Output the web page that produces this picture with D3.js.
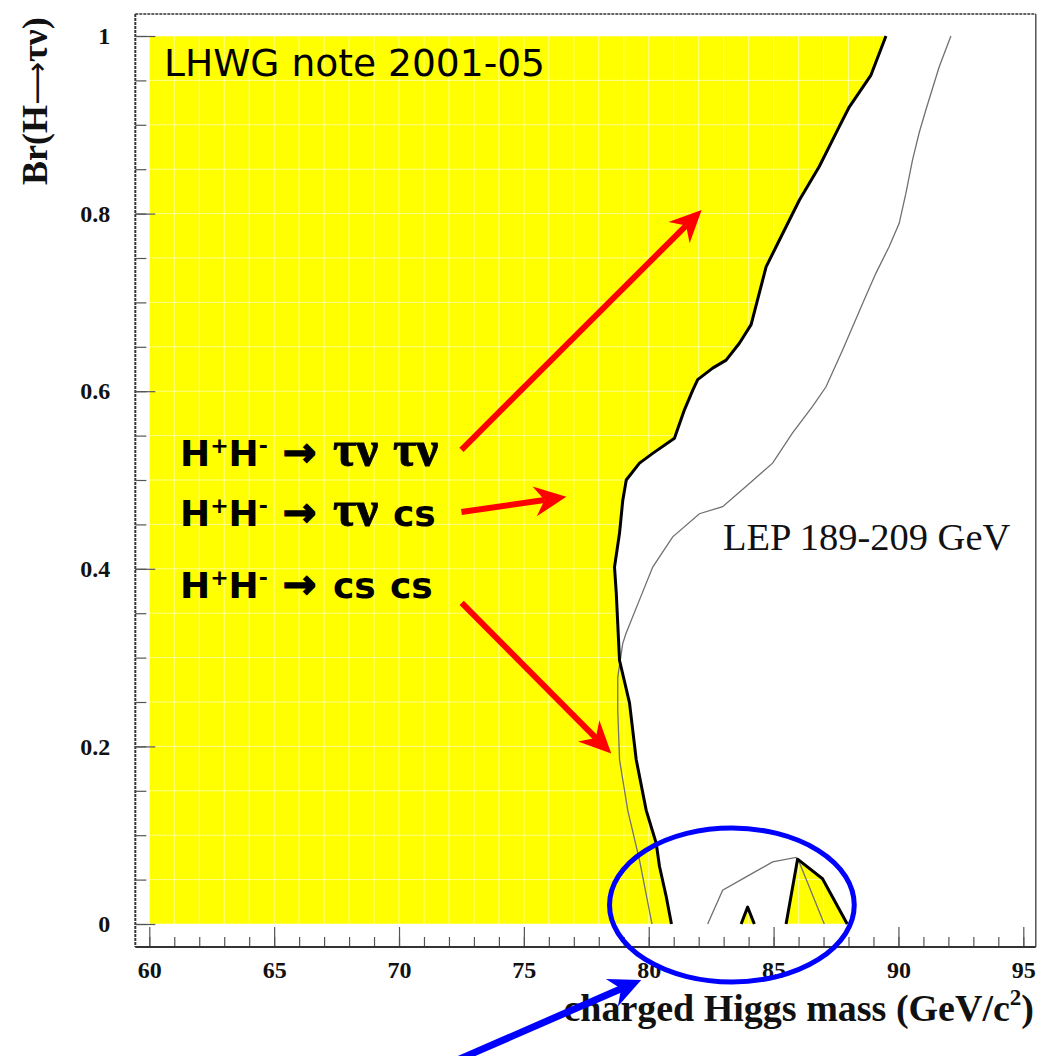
<!DOCTYPE html>
<html>
<head>
<meta charset="utf-8">
<script src="https://cdn.jsdelivr.net/npm/d3@7"></script>
<style>
  body { margin: 0; background: #fff; }
  svg { display: block; }
</style>
</head>
<body>
<svg id="chart" width="1039" height="1056"></svg>
<script>
// ---- tick values ----
const xTicksMajor = [60, 65, 70, 75, 80, 85, 90, 95];
const xTicksMinor = d3.range(60, 96, 1);
const yTicksMajor = [0, 0.2, 0.4, 0.6, 0.8, 1];
const yTicksMinor = d3.range(0, 21).map(i => i * 0.05);

// ---- observed 95% CL exclusion boundary: [mass GeV, BR(H->tau nu)] ----
const observedMain = [
  [89.50, 1.000], [88.90, 0.956], [88.03, 0.920], [87.63, 0.898], [86.83, 0.853],
  [86.03, 0.815], [85.23, 0.770], [84.70, 0.740], [84.36, 0.703], [84.10, 0.675],
  [83.63, 0.654], [83.10, 0.635], [82.56, 0.626], [81.96, 0.613], [81.76, 0.601],
  [81.43, 0.579], [81.03, 0.547], [80.16, 0.530], [79.63, 0.519], [79.10, 0.500],
  [78.96, 0.477], [78.83, 0.440], [78.63, 0.402], [78.70, 0.373], [78.83, 0.297],
  [79.23, 0.249], [79.50, 0.185], [79.90, 0.128], [80.30, 0.091], [80.43, 0.065],
  [80.70, 0.031], [80.91, 0.000]
];
// small excluded islands near BR = 0
const islandSmall = [[83.70, 0.000], [83.96, 0.019], [84.23, 0.000]];
const islandRight = [[85.50, 0.000], [85.96, 0.073], [86.96, 0.051], [87.95, 0.000]];

// ---- expected limit ----
const expectedMain = [
  [92.10, 1.000], [91.63, 0.965], [91.10, 0.917], [90.83, 0.891], [90.56, 0.860],
  [90.30, 0.823], [90.03, 0.789], [89.63, 0.763], [89.10, 0.733], [88.63, 0.703],
  [87.76, 0.646], [87.10, 0.605], [86.56, 0.583], [85.76, 0.553], [84.96, 0.519],
  [84.03, 0.496], [82.96, 0.470], [82.03, 0.462], [80.96, 0.436], [80.16, 0.402],
  [79.63, 0.365], [79.10, 0.328], [78.96, 0.316], [78.76, 0.278], [78.76, 0.241],
  [78.83, 0.185], [79.16, 0.128], [79.63, 0.072], [80.13, 0.000]
];
const expectedLow = [
  [82.36, 0.000], [82.96, 0.038], [83.90, 0.053], [84.96, 0.070], [85.90, 0.075],
  [86.05, 0.068], [87.03, 0.000]
];

// ---- annotation arrows (data coordinates) ----
const redArrows = [
  { from: [72.50, 0.534], to: [82.12, 0.804] },
  { from: [72.50, 0.464], to: [76.70, 0.481] },
  { from: [72.51, 0.3615], to: [78.50, 0.192] }
];
const blueArrow = { from: [72.35, -0.153], to: [79.70, -0.063] };
const blueEllipse = { cx: 83.33, cy: 0.0214, rx: 4.9, ry: 0.0867 };

const channelLines = [
  { y: 0.516, words: ["\u03c4\u03bd", "\u03c4\u03bd"], serif: [true, true] },
  { y: 0.448, words: ["\u03c4\u03bd", "cs"], serif: [true, false] },
  { y: 0.367, words: ["cs", "cs"], serif: [false, false] }
];

// ---- scales ----
const x = d3.scaleLinear().domain([60, 95]).range([149.3, 1023.3]);
const y = d3.scaleLinear().domain([0, 1]).range([924, 36]);
const frame = { x0: x(59.44), x1: x(95.5), y0: y(1.0248), y1: y(-0.0259) };

const svg = d3.select("#chart");
const line = d3.line().x(d => x(d[0])).y(d => y(d[1]));
const YELLOW = "#ffff00";

// excluded region
const excluded = [[60, 0], [60, 1]].concat(observedMain);
svg.append("path").attr("d", line(excluded) + "Z").attr("fill", YELLOW);
[islandSmall, islandRight].forEach(isl => {
  svg.append("path").attr("d", line(isl) + "Z").attr("fill", YELLOW);
});

// pale grid lines visible over the yellow fill
const grid = svg.append("g").attr("stroke", "#ffffff").attr("stroke-opacity", 0.55).attr("stroke-width", 1);
xTicksMinor.forEach(v => {
  grid.append("line").attr("x1", x(v)).attr("x2", x(v)).attr("y1", y(0)).attr("y2", y(1));
});
yTicksMinor.forEach(v => {
  grid.append("line").attr("x1", x(60)).attr("x2", x(95)).attr("y1", y(v)).attr("y2", y(v));
});

// expected limit (thin grey)
[expectedMain, expectedLow].forEach(seg => {
  svg.append("path").attr("d", line(seg)).attr("fill", "none")
    .attr("stroke", "#707070").attr("stroke-width", 1.3);
});

// observed boundary (thick black)
[observedMain, islandSmall, islandRight].forEach(seg => {
  svg.append("path").attr("d", line(seg)).attr("fill", "none")
    .attr("stroke", "#000").attr("stroke-width", 3).attr("stroke-linejoin", "round");
});

// ---- frame ----
svg.append("line").attr("x1", frame.x0).attr("x2", frame.x1).attr("y1", frame.y0).attr("y2", frame.y0)
  .attr("stroke", "#333").attr("stroke-width", 1.5).attr("stroke-dasharray", "3,1");
svg.append("line").attr("x1", frame.x0).attr("x2", frame.x0).attr("y1", frame.y0).attr("y2", frame.y1)
  .attr("stroke", "#333").attr("stroke-width", 2).attr("stroke-dasharray", "3,1");
svg.append("line").attr("x1", frame.x1).attr("x2", frame.x1).attr("y1", frame.y0).attr("y2", frame.y1)
  .attr("stroke", "#555").attr("stroke-width", 1.5);

// ---- axes ----
const tickFont = "'Liberation Serif', 'Times New Roman', serif";
const xAxisG = svg.append("g").attr("transform", `translate(0,${frame.y1})`);
xAxisG.call(d3.axisBottom(x).tickValues(xTicksMinor).tickSize(-10).tickFormat(""));
xAxisG.selectAll(".tick line").attr("stroke", "#555").attr("stroke-width", 1.2);
const xMajorG = svg.append("g").attr("transform", `translate(0,${frame.y1})`);
xMajorG.call(d3.axisBottom(x).tickValues(xTicksMajor).tickSize(-20).tickPadding(14).tickFormat(d3.format("d")));
xMajorG.selectAll(".tick line").attr("stroke", "#555").attr("stroke-width", 1.2);
xMajorG.selectAll(".tick text").attr("font-family", tickFont).attr("font-weight", "bold")
  .attr("font-size", 24).attr("fill", "#111");
[xAxisG, xMajorG].forEach(g => g.select(".domain").remove());
svg.append("line").attr("x1", frame.x0).attr("x2", frame.x1).attr("y1", frame.y1).attr("y2", frame.y1)
  .attr("stroke", "#333").attr("stroke-width", 2);

const yAxisG = svg.append("g").attr("transform", `translate(${frame.x0},0)`);
yAxisG.call(d3.axisLeft(y).tickValues(yTicksMinor).tickSize(-11).tickFormat(""));
yAxisG.selectAll(".tick line").attr("stroke", "#555").attr("stroke-width", 1.2);
const yMajorG = svg.append("g").attr("transform", `translate(${frame.x0},0)`);
yMajorG.call(d3.axisLeft(y).tickValues(yTicksMajor).tickSize(-20).tickPadding(25).tickFormat(d => String(d)));
yMajorG.selectAll(".tick line").attr("stroke", "#555").attr("stroke-width", 1.2);
yMajorG.selectAll(".tick text").attr("font-family", tickFont).attr("font-weight", "bold")
  .attr("font-size", 24).attr("fill", "#111");
[yAxisG, yMajorG].forEach(g => g.select(".domain").remove());

// axis titles
const yt = svg.append("text")
  .attr("transform", "translate(47,185) rotate(-90)")
  .attr("text-anchor", "start")
  .attr("font-family", tickFont).attr("font-weight", "bold").attr("font-size", 36).attr("fill", "#111");
yt.append("tspan").text("Br(H");
yt.append("tspan").attr("font-family", "'DejaVu Sans', sans-serif").attr("font-weight", "normal")
  .attr("font-size", 30).text("\u27f6");
yt.append("tspan").text("\u03c4\u03bd)");

const xt = svg.append("text")
  .attr("x", 1034).attr("y", 1021).attr("text-anchor", "end")
  .attr("font-family", tickFont).attr("font-weight", "bold").attr("font-size", 38).attr("fill", "#111");
xt.append("tspan").text("charged Higgs mass (GeV/c");
xt.append("tspan").attr("font-size", 23).attr("dy", -16).text("2");
xt.append("tspan").attr("dy", 16).text(")");

// ---- labels ----
svg.append("text")
  .attr("x", 164).attr("y", 76)
  .attr("font-family", "'DejaVu Sans', Verdana, sans-serif").attr("font-size", 37.6).attr("fill", "#000")
  .text("LHWG note 2001-05");

svg.append("text")
  .attr("x", 723).attr("y", 550)
  .attr("font-family", tickFont).attr("font-size", 38.5).attr("fill", "#111")
  .text("LEP 189-209 GeV");

const sans = "'DejaVu Sans', Verdana, sans-serif";
channelLines.forEach(cl => {
  const by = y(cl.y);
  const t = svg.append("text").attr("y", by).attr("font-family", sans)
    .attr("font-weight", "bold").attr("font-size", 36).attr("fill", "#000");
  t.append("tspan").attr("x", 180).text("H");
  t.append("tspan").attr("font-size", 22).attr("dy", -13).text("+");
  t.append("tspan").attr("dy", 13).text("H");
  t.append("tspan").attr("font-size", 22).attr("dy", -13).text("-");
  t.append("tspan").attr("x", 283).attr("dy", 13).attr("font-size", 40)
    .attr("stroke", "#000").attr("stroke-width", 1.6).text("\u2192");
  const xs = [333, cl.words[1] === "cs" && cl.words[0] === "cs" ? 390 : 393];
  cl.words.forEach((w, i) => {
    const ts = t.append("tspan").attr("x", xs[i]).text(w);
    if (cl.serif[i]) ts.attr("font-family", "'Liberation Serif', 'DejaVu Serif', serif")
      .attr("font-size", 50).attr("stroke", "#000").attr("stroke-width", 0.8);
  });
});

// ---- arrows ----
function drawArrow(a, color, width) {
  const x1 = x(a.from[0]), y1 = y(a.from[1]), x2 = x(a.to[0]), y2 = y(a.to[1]);
  const dx = x2 - x1, dy = y2 - y1, len = Math.hypot(dx, dy);
  const ux = dx / len, uy = dy / len, nx = -uy, ny = ux;
  const L = 32, W = 15, N = 22;
  svg.append("line").attr("x1", x1).attr("y1", y1)
    .attr("x2", x2 - N * ux).attr("y2", y2 - N * uy)
    .attr("stroke", color).attr("stroke-width", width);
  const head = [
    [x2, y2],
    [x2 - L * ux + W * nx, y2 - L * uy + W * ny],
    [x2 - N * ux, y2 - N * uy],
    [x2 - L * ux - W * nx, y2 - L * uy - W * ny]
  ];
  svg.append("path").attr("d", "M" + head.map(p => p.join(",")).join("L") + "Z").attr("fill", color);
}
redArrows.forEach(a => drawArrow(a, "#ff0000", 6));

svg.append("ellipse")
  .attr("cx", x(blueEllipse.cx)).attr("cy", y(blueEllipse.cy))
  .attr("rx", x(blueEllipse.cx + blueEllipse.rx) - x(blueEllipse.cx))
  .attr("ry", y(0) - y(blueEllipse.ry))
  .attr("fill", "none").attr("stroke", "#0000ff").attr("stroke-width", 5);
drawArrow(blueArrow, "#0000ff", 7);
</script>
</body>
</html>
